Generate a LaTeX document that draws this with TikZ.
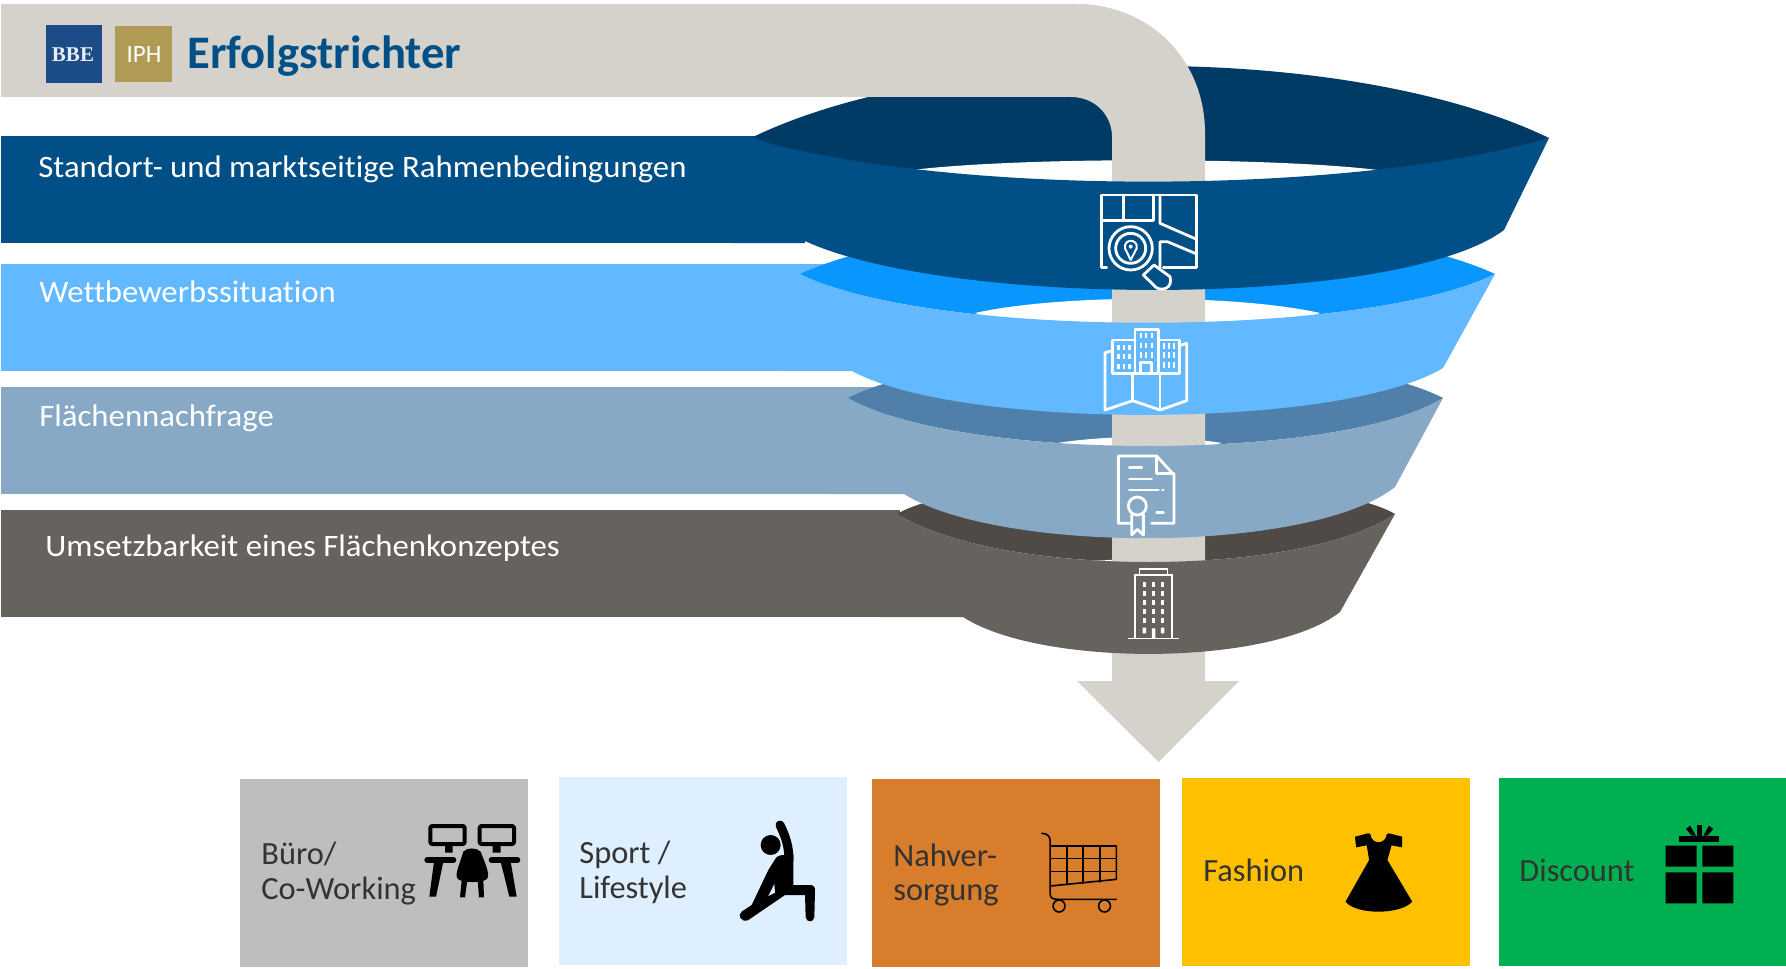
\documentclass[tikz,border=0pt]{standalone}
\usepackage{fontspec}
\setmainfont[Ligatures=NoCommon]{Carlito}
\newfontfamily\bandfont[FakeStretch=1.05,Ligatures=NoCommon]{Carlito}
\newfontfamily\bbefont{Liberation Serif}
\definecolor{cream}{HTML}{D4D2CB}
\definecolor{fa}{HTML}{004F87}\definecolor{ba}{HTML}{003B66}
\definecolor{fb}{HTML}{62B9FF}\definecolor{bb}{HTML}{0A96FF}
\definecolor{fc}{HTML}{87A9C6}\definecolor{bc}{HTML}{5080A9}
\definecolor{fd}{HTML}{66625E}\definecolor{bd}{HTML}{4F4A46}
\definecolor{bbeblue}{HTML}{1B4C87}\definecolor{iphgold}{HTML}{B09B55}
\definecolor{titleblue}{HTML}{004F87}\definecolor{ink}{HTML}{333333}
\definecolor{tilegray}{HTML}{BEBEBE}\definecolor{tilesky}{HTML}{DEEFFF}
\definecolor{tileorange}{HTML}{D77D2B}\definecolor{tileyellow}{HTML}{FFC000}
\definecolor{tilegreen}{HTML}{00AF50}
\tikzset{
 bandlabel/.style={anchor=base west,inner sep=0pt,text=white,font=\bandfont\fontsize{15.6}{18}\selectfont},
 boxlabel/.style={anchor=base west,inner sep=0pt,text=ink,font=\fontsize{16.2}{19}\selectfont},
 tile/.style={anchor=north west,inner sep=0pt,minimum width=#1,minimum height=94pt},
 iconline/.style={draw=white,line width=1.4pt,line join=round,line cap=round},
 thinline/.style={draw=white,line width=0.8pt},
 cartline/.style={draw=black,line width=0.8pt,line cap=round,line join=round},
 blackline/.style={draw=black,line cap=round,line join=round},
}
\begin{document}
\begin{tikzpicture}[x=0.5pt,y=-0.5pt]
\useasboundingbox (0,0) rectangle (1786,968);
\fill[white] (0,0) rectangle (1786,968);
% strips behind the funnel
\fill[fa] (1,136) rectangle (800,243);
\fill[fb] (1,264) rectangle (830,371);
\fill[fc] (1,387) rectangle (890,494);
\fill[fd] (1,510) rectangle (900,617);
% back rims
\fill[ba] (753,137) .. controls (950,42) and (1350,42) .. (1549,138) .. controls (1350,216) and (950,216) .. cycle;
\fill[white] (912,170) .. controls (1020,157) and (1270,157) .. (1378,170) .. controls (1270,200) and (1020,200) .. cycle;
\fill[bb] (800,274) .. controls (950,205) and (1345,205) .. (1495,274) .. controls (1365,339) and (930,339) .. cycle;
\fill[white] (975,313) .. controls (1060,294) and (1235,294) .. (1320,313) .. controls (1235,345) and (1060,345) .. cycle;
\fill[bc] (848,398) .. controls (960,340) and (1330,340) .. (1443,398) .. controls (1340,462) and (960,462) .. cycle;
\fill[white] (1057,443) .. controls (1110,435) and (1170,435) .. (1222,443) .. controls (1170,455) and (1110,455) .. cycle;
\fill[bd] (897,514) .. controls (970,470) and (1320,470) .. (1395,514) .. controls (1300,578) and (1000,578) .. cycle;
\fill[white] (1095,561) .. controls (1130,558) and (1180,558) .. (1215,561) .. controls (1180,570) and (1130,570) .. cycle;
% bent arrow
\fill[cream] (1,4) -- (1076,4) .. controls (1150,4) and (1205,60) .. (1205,133) -- (1205,681) -- (1239,681) -- (1158.6,762) -- (1077,681) -- (1112,681) -- (1112,137) .. controls (1112,115) and (1095,97) .. (1071,97) -- (1,97) -- cycle;
% front bands
\fill[fd] (897,514) .. controls (1000,578) and (1300,578) .. (1395,514) -- (1340,612) .. controls (1270,667) and (1040,667) .. (963,617) -- (880,617) -- (880,514) -- cycle;
\fill[fc] (848,398) .. controls (960,462) and (1340,462) .. (1443,398) -- (1395,487) .. controls (1310,554) and (1000,554) .. (904,494) -- (830,494) -- (830,398) -- cycle;
\fill[fb] (800,274) .. controls (930,339) and (1365,339) .. (1495,274) -- (1443,368) .. controls (1340,430) and (960,430) .. (852,371) -- (780,371) -- (780,274) -- cycle;
\fill[fa] (753,139) .. controls (950,196) and (1350,196) .. (1549,138) -- (1504,230) .. controls (1400,308) and (950,308) .. (805,241) -- (805,243) -- (730,243) -- (730,139) -- cycle;
% logos and title
\node[tile=28pt,minimum height=29pt,fill=bbeblue] (bbe) at (46,25) {};
\node[anchor=base,inner sep=0pt,text=white!90!bbeblue,font=\bbefont\fontsize{10.5}{13}\bfseries\selectfont] (bbetext) at (73,62) {BBE};
\node[tile=28.5pt,minimum height=28pt,fill=iphgold] (iph) at (115,26) {};
\node[anchor=base,inner sep=0pt,text=white,font=\fontsize{12.5}{14}\selectfont] (iphtext) at (144,63) {IPH};
\node[anchor=base west,inner sep=0pt,text=titleblue,font=\fontsize{23.3}{27}\bfseries\selectfont] (title) at (187,69) {Erfolgstrichter};
% band labels
\node[bandlabel] (la) at (38,177) {Standort- und marktseitige Rahmenbedingungen};
\node[bandlabel] (lb) at (39,302) {Wettbewerbssituation};
\node[bandlabel] (lc) at (39,426) {Flächennachfrage};
\node[bandlabel] (ld) at (45,556) {Umsetzbarkeit eines Flächenkonzeptes};
% map icon
\begin{scope}[shift={(1080,180)},xscale=1/3,yscale=1/3]
\draw[iconline] (80,262) -- (65,262) -- (65,45) -- (350,45) -- (350,262) -- (250,262);
\draw[iconline] (130,45) -- (130,122) (65,122) -- (220,122) -- (220,45);
\draw[iconline] (240,45) -- (240,130) -- (350,178);
\draw[iconline] (240,262) -- (240,185) -- (262,185) -- (350,222);
\draw[iconline,fill=fa] (152,205) circle [radius=65];
\draw[iconline] (152,205) circle [radius=45];
\draw[iconline,line width=1pt] (152,240) -- (135,205) .. controls (130,175) and (175,175) .. (170,205) -- cycle;
\fill[white] (152,200) circle [radius=6];
\draw[iconline,fill=fa] (190,285) -- (222,255) -- (270,290) .. controls (280,325) and (245,335) .. (228,322) -- cycle;
\end{scope}
% city map icon
\begin{scope}[shift={(1090,320)},xscale=1/3,yscale=1/3]
\draw[iconline] (68,160) -- (68,60) -- (135,60) (205,60) -- (268,60) -- (268,160) (135,160) -- (135,28) -- (205,28) -- (205,160) (68,160) -- (268,160);
\draw[iconline] (152,160) -- (152,128) -- (185,128) -- (185,160);
\foreach \cx in {152,168,186}{\foreach \cy in {47,76,105}{\fill[white] (\cx-3.5,\cy-8) rectangle (\cx+3.5,\cy+8);}}
\foreach \cx in {85,101,118}{\foreach \cy in {82,110,140}{\fill[white] (\cx-3.5,\cy-8) rectangle (\cx+3.5,\cy+8);}}
\foreach \cx in {222,237,252}{\foreach \cy in {78,105,135}{\fill[white] (\cx-3.5,\cy-8) rectangle (\cx+3.5,\cy+8);}}
\draw[iconline] (68,92) -- (45,98) -- (45,270) -- (128,242) -- (210,270) -- (290,242) -- (290,70) -- (270,76);
\draw[iconline] (128,160) -- (128,242) (210,160) -- (210,270);
% certificate icon
\draw[iconline] (122,610) -- (85,610) -- (85,408) -- (200,408) -- (252,465) -- (252,610) -- (185,610);
\draw[iconline] (200,408) -- (200,460) -- (252,460);
\draw[iconline] (118,442) -- (155,442) (118,477) -- (185,477) (118,510) -- (205,510) (217,510) -- (220,510) (200,577) -- (220,577);
\draw[iconline] (142,558) circle [radius=27];
\draw[iconline] (125,585) -- (125,645) -- (142,628) -- (160,645) -- (160,585);
\end{scope}
% tower icon
\begin{scope}[shift={(780,380)},xscale=1/2.24,yscale=1/3]
\draw[thinline] (795,776) -- (795,585) -- (878,585) -- (878,776);
\draw[thinline] (805,585) -- (805,567) -- (868,567) -- (868,585) (780,776) -- (893,776);
\foreach \cx in {812,833,853}{\foreach \cy in {606,633,660,687,714}{\fill[white] (\cx,\cy) rectangle (\cx+8,\cy+16);}}
\fill[white] (812,743) rectangle (820,760) (853,743) rectangle (861,760) (833,745) rectangle (841,776);
\end{scope}
% tiles
\node[tile=144pt,fill=tilegray] (t1) at (240,779) {};
\node[tile=144pt,fill=tilesky] (t2) at (559,777) {};
\node[tile=144pt,fill=tileorange] (t3) at (872,779) {};
\node[tile=144pt,fill=tileyellow] (t4) at (1182,778) {};
\node[tile=143.5pt,fill=tilegreen] (t5) at (1499,778) {};
\node[boxlabel] (a1) at (261,864) {Büro/};
\node[boxlabel] (a2) at (261,899) {Co-Working};
\node[boxlabel] (b1) at (579,863) {Sport /};
\node[boxlabel] (b2) at (579,898) {Lifestyle};
\node[boxlabel] (c1) at (893,866) {Nahver-};
\node[boxlabel] (c2) at (893,900) {sorgung};
\node[boxlabel] (d1) at (1203,881) {Fashion};
\node[boxlabel] (e1) at (1519,881) {Discount};
% desk icon
\begin{scope}[shift={(410,810)},xscale=1/3,yscale=1/3]
\draw[blackline,line width=2pt,rounded corners=1pt] (61,48) rectangle (164,102) (209,48) rectangle (312,102);
\fill (105,105) rectangle (128,128) (248,105) rectangle (272,128);
\draw[blackline,line width=3pt] (52,150) -- (130,150) (245,150) -- (322,150);
\fill (72,155) -- (100,155) -- (78,260) -- (58,260) -- cycle (272,155) -- (302,155) -- (320,260) -- (298,260) -- cycle;
\fill (160,125) .. controls (170,112) and (200,112) .. (212,125) .. controls (225,160) and (240,190) .. (232,205) .. controls (225,220) and (150,220) .. (142,205) .. controls (134,190) and (150,160) .. (160,125) -- cycle;
\fill (155,210) -- (172,210) -- (165,262) -- (150,262) -- cycle (203,210) -- (220,210) -- (222,262) -- (207,262) -- cycle;
\end{scope}
% person icon
\begin{scope}[shift={(725,810)},xscale=1/3,yscale=1/3]
\fill (137,105) circle [radius=30];
\draw[blackline,line width=4.5pt] (165,45) .. controls (182,80) and (192,110) .. (192,150);
\fill (150,148) .. controls (155,138) and (165,135) .. (178,135) -- (205,135) -- (205,225) -- (255,225) .. controls (265,225) and (270,230) .. (270,240) -- (268,322) .. controls (265,338) and (245,338) .. (242,322) -- (240,255) -- (180,255) -- (70,330) .. controls (50,340) and (35,315) .. (50,305) -- (80,285) -- (130,180) -- cycle;
\fill[tilesky] (148,222) -- (130,258) -- (150,248) -- cycle;
\end{scope}
% cart icon
\begin{scope}[shift={(860,770)},xscale=1/1.693,yscale=1/3]
\draw[cartline] (308,190) .. controls (318,190) and (322,200) .. (322,215) -- (322,372) .. controls (322,382) and (325,388) .. (335,388) -- (434,388);
\draw[cartline] (322,228) -- (434,228) -- (434,328) -- (322,348);
\draw[cartline] (322,265) -- (434,265) (322,305) -- (434,305);
\draw[cartline] (350,228) -- (350,344) (378,228) -- (378,340) (406,228) -- (406,336);
\draw[cartline] (337,408) ellipse [x radius=10,y radius=18];
\draw[cartline] (414,408) ellipse [x radius=10,y radius=18];
% dress icon
\fill (838,200) -- (860,190) -- (864,192) .. controls (866,225) and (890,225) .. (892,192) -- (896,190) -- (918,200) -- (918,232) -- (900,226) -- (893,270) -- (935,395) .. controls (915,435) and (840,435) .. (822,395) -- (862,270) -- (858,226) -- (840,232) -- cycle;
\end{scope}
% gift icon
\begin{scope}[shift={(1650,815)},xscale=1/3,yscale=1/3]
\fill (47,92) rectangle (140,155) (157,92) rectangle (250,155) (47,172) rectangle (140,265) (157,172) rectangle (250,265);
\fill (88,62) rectangle (208,80);
\fill (140,30) rectangle (157,62);
\fill (108,42) -- (120,32) -- (138,62) -- (125,62) -- cycle (190,42) -- (177,32) -- (160,62) -- (172,62) -- cycle;
\end{scope}
\end{tikzpicture}
\end{document}
